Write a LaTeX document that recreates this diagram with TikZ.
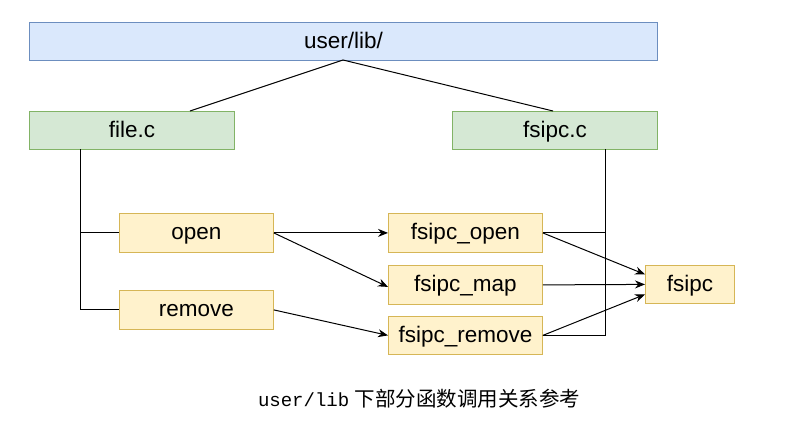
\documentclass[tikz,border=0pt]{standalone}
\usepackage{fontspec}
\setmainfont{Liberation Sans}
\setmonofont{Liberation Mono}
\newfontfamily\cjk{Noto Sans CJK SC}
\usetikzlibrary{arrows.meta}
\begin{document}
\begin{tikzpicture}[x=1pt,y=-1pt,
  box/.style={draw, line width=0.8pt, minimum height=38pt, inner sep=0pt, text height=17pt, text depth=3.5pt, font=\fontsize{22.5}{26}\selectfont, anchor=north west},
  bluebox/.style={box, fill=blue1, draw=blue2},
  greenbox/.style={box, fill=green1, draw=green2},
  yellowbox/.style={box, fill=yellow1, draw=yellow2},
  line/.style={line width=1pt, draw=black},
  arr/.style={line, -{Stealth[length=10pt,width=8pt]}}]
\definecolor{blue1}{HTML}{DAE8FC}\definecolor{blue2}{HTML}{6C8EBF}
\definecolor{green1}{HTML}{D5E8D4}\definecolor{green2}{HTML}{82B366}
\definecolor{yellow1}{HTML}{FFF2CC}\definecolor{yellow2}{HTML}{D6B656}
\useasboundingbox (0,0) rectangle (792,429);
\node[bluebox, minimum width=628pt] (lib) at (29,22) {user/lib/};
\node[greenbox, minimum width=205pt] (file) at (29,111) {file.c};
\node[greenbox, minimum width=205pt] (fsipcc) at (452,111) {fsipc.c};
\node[yellowbox, minimum width=154pt, minimum height=39pt] (open) at (119,213) {open};
\node[yellowbox, minimum width=154pt, minimum height=39pt] (remove) at (119,290) {remove};
\node[yellowbox, minimum width=154pt, minimum height=39pt] (fopen) at (388,213) {fsipc\_open};
\node[yellowbox, minimum width=154pt, minimum height=39pt] (fmap) at (388,265) {fsipc\_map};
\node[yellowbox, minimum width=154pt, minimum height=38pt] (fremove) at (388,316) {fsipc\_remove};
\node[yellowbox, minimum width=89pt] (fsipc) at (645,265) {fsipc};
\coordinate (ltop) at (343,60);
\coordinate (fileT) at (190,111);
\coordinate (fsipccT) at (553,111);
\draw[line] (fileT) -- (ltop) -- (fsipccT);
\coordinate (fx) at (80,149);
\draw[line] (fx) |- (open.west);
\draw[line] (fx) |- (remove.west);
\coordinate (gx) at (605,149);
\draw[line] (gx) |- (fopen.east);
\draw[line] (gx) |- (fremove.east);
\draw[arr] (open.east) -- (fopen.west);
\draw[arr] (open.east) -- ([yshift=-2pt]fmap.west);
\draw[arr] (remove.east) -- (fremove.west);
\draw[arr] (fopen.east) -- ([yshift=10pt]fsipc.west);
\draw[arr] (fmap.east) -- (fsipc.west);
\draw[arr] (fremove.east) -- ([yshift=-10pt]fsipc.west);
\node[font=\fontsize{19}{22}\selectfont] (cap) at (419,399) {\texttt{user/lib} {\cjk\fontsize{20.5}{22}\selectfont 下部分函数调用关系参考}};
\end{tikzpicture}
\end{document}
